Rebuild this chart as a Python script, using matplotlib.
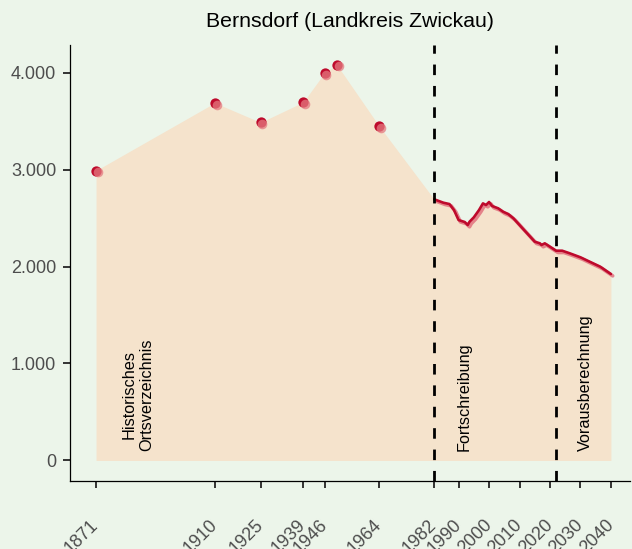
import matplotlib.pyplot as plt
from matplotlib.transforms import ScaledTranslation

# Historical census points (Historisches Ortsverzeichnis)
hist_years = [1871, 1910, 1925, 1939, 1946, 1950, 1964]
hist_pop = [2990, 3688, 3486, 3695, 3997, 4082, 3445]

# Continuous series (Fortschreibung + Vorausberechnung)
line_years = [1982, 1985, 1987, 1988.5, 1990, 1992, 1993, 1993.6, 1995, 1996.7,
              1998, 1999, 2000, 2001, 2003, 2004.6, 2006.3, 2008, 2010,
              2012, 2015, 2016.7, 2017.2, 2018.3, 2020, 2022, 2024, 2026.5,
              2030, 2033, 2036.5, 2040]
line_pop = [2693, 2658, 2644, 2582, 2479, 2459, 2428, 2462, 2507, 2582,
            2651, 2634, 2665, 2624, 2600, 2565, 2541, 2497, 2428,
            2359, 2256, 2239, 2222, 2239, 2204, 2163, 2163, 2136,
            2095, 2050, 1998, 1922]

xticks = [1871, 1910, 1925, 1939, 1946, 1964, 1982, 1990, 2000, 2010, 2020, 2030, 2040]
yticks = [0, 1000, 2000, 3000, 4000]
ytick_labels = ['0', '1.000', '2.000', '3.000', '4.000']
period_lines = [1982, 2022]

bg = '#ecf5ea'
fill_color = '#f5e3cc'
red = '#be0a2c'

plt.rcParams['font.family'] = ['Liberation Sans', 'DejaVu Sans']

fig = plt.figure(figsize=(6.32, 5.49), dpi=100, facecolor=bg)
ax = fig.add_axes([0.111, 0.124, 0.886, 0.794], facecolor=bg)

# area under the whole series
all_years = hist_years + line_years
all_pop = hist_pop + line_pop
ax.fill_between(all_years, all_pop, 0, color=fill_color, lw=0, zorder=1)

# shadow offsets
shadow = ax.transData + ScaledTranslation(1.3 / 72, -1.3 / 72, fig.dpi_scale_trans)

ax.plot(line_years, line_pop, color='#e06a78', lw=2.6, alpha=0.8,
        transform=shadow, zorder=3, solid_capstyle='round')
ax.plot(line_years, line_pop, color=red, lw=1.9, zorder=4, solid_capstyle='round')

ax.scatter(hist_years, hist_pop, s=55, color=red, lw=0, zorder=5)
ax.scatter(hist_years, hist_pop, s=48, color='#e47a80', alpha=0.75, lw=0,
           transform=shadow, zorder=6)

for yr in period_lines:
    ax.axvline(yr, color='black', lw=2.0, ls=(0, (3.8, 3.9)), zorder=7)

txt = dict(rotation=90, va='bottom', ha='center', fontsize=11.7, color='black', zorder=8)
ax.text(1884.7, 100, 'Historisches\nOrtsverzeichnis', linespacing=1.2, **txt)
ax.text(1991.8, 100, 'Fortschreibung', **txt)
ax.text(2031.7, 100, 'Vorausberechnung', **txt)

ax.set_xlim(1862.5, 2046.3)
ax.set_ylim(-211, 4284)
ax.set_xticks(xticks)
ax.set_xticklabels([str(x) for x in xticks], rotation=45, ha='right', va='center',
                   rotation_mode='anchor')
ax.set_yticks(yticks)
ax.set_yticklabels(ytick_labels)
ax.tick_params(axis='both', colors='#333333', labelcolor='#4d4d4d',
               labelsize=13, length=5, width=1.4, pad=5)
ax.tick_params(axis='x', pad=25)

for side in ['top', 'right']:
    ax.spines[side].set_visible(False)
for side in ['left', 'bottom']:
    ax.spines[side].set_color('black')
    ax.spines[side].set_linewidth(0.9)

ax.set_title('Bernsdorf (Landkreis Zwickau)', fontsize=15.3, pad=13)

fig.savefig('out.png', dpi=100, facecolor=bg)
